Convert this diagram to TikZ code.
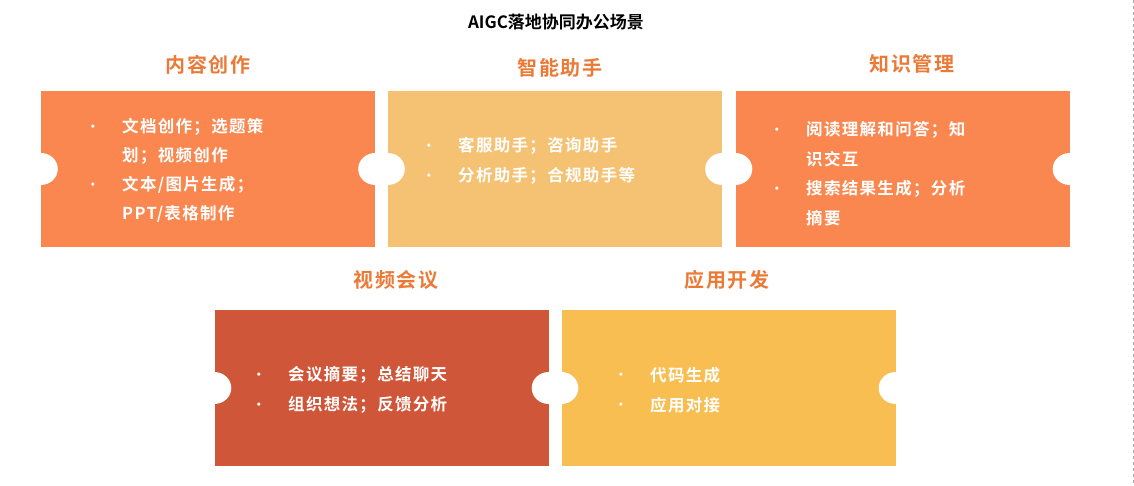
\documentclass[tikz,border=0pt]{standalone}
\usepackage{fontspec}
\newfontfamily\cjk{Noto Sans CJK SC}[LetterSpace=8]
\newfontfamily\cjkb{Noto Sans CJK SC Bold}[LetterSpace=8]
\newfontfamily\cjkt{Noto Sans CJK SC Bold}
\definecolor{o1}{HTML}{F9874F}
\definecolor{o2}{HTML}{F5C273}
\definecolor{o4}{HTML}{CF5639}
\definecolor{o5}{HTML}{F8BE52}
\definecolor{hd}{HTML}{EB7A37}
\begin{document}
\begin{tikzpicture}[x=1pt,y=-1pt,
  boxs/.style={draw=none,minimum width=334pt,minimum height=156pt,inner sep=0pt},
  hole/.style={fill=white,draw=none,ellipse,minimum width=33pt,minimum height=32pt},
  head/.style={text=hd,font=\cjkb\fontsize{20}{24}\selectfont},
  txt/.style={text=white,font=\cjkb\fontsize{16.5}{20}\selectfont,anchor=west,inner sep=0pt},
  bul/.style={text=white,font=\fontsize{12}{14}\selectfont,inner sep=0pt}]
\useasboundingbox (0,0) rectangle (1134,486);
\draw[gray!70,dashed,line width=0.8pt] (1133,0) -- (1133,486);
\node[font=\cjkt\fontsize{17}{20}\selectfont] (title) at (556,22) {AIGC落地协同办公场景};
\node[boxs,fill=o1] (b1) at (208,169) {};
\node[boxs,fill=o2] (b2) at (555,169) {};
\node[boxs,fill=o1] (b3) at (902.5,169) {};
\node[boxs,fill=o4] (b4) at (381.5,388) {};
\node[boxs,fill=o5] (b5) at (728.5,388) {};
\foreach \p in {b1.west,b1.east,b2.west,b2.east,b3.west,b3.east,b4.west,b4.east,b5.west,b5.east}
  \fill[white] (\p) ellipse [x radius=17pt,y radius=16pt];
\node[head] (h1) at (208,65) {内容创作};
\node[head] (h2) at (560,68) {智能助手};
\node[head] (h3) at (912,64) {知识管理};
\node[head] (h4) at (396,280) {视频会议};
\node[head] (h5) at (727,280) {应用开发};
% box1
\node[bul] (u11) at (93,127) {•};
\node[txt] (t11) at (122,127) {文档创作；选题策};
\node[txt] (t12) at (122,156) {划；视频创作};
\node[bul] (u12) at (93,185) {•};
\node[txt] (t13) at (122,185) {文本/图片生成；};
\node[txt] (t14) at (122,214) {PPT/表格制作};
% box2
\node[bul] (u21) at (429,146) {•};
\node[txt] (t21) at (458,146) {客服助手；咨询助手};
\node[bul] (u22) at (429,176) {•};
\node[txt] (t22) at (458,176) {分析助手；合规助手等};
% box3
\node[bul] (u31) at (777,130) {•};
\node[txt] (t31) at (806,130) {阅读理解和问答；知};
\node[txt] (t32) at (806,159) {识交互};
\node[bul] (u32) at (777,189) {•};
\node[txt] (t33) at (806,189) {搜索结果生成；分析};
\node[txt] (t34) at (806,218) {摘要};
% box4
\node[bul] (u41) at (259,375) {•};
\node[txt] (t41) at (288,375) {会议摘要；总结聊天};
\node[bul] (u42) at (259,405) {•};
\node[txt] (t42) at (288,405) {组织想法；反馈分析};
% box5
\node[bul] (u51) at (621,375) {•};
\node[txt] (t51) at (650,375) {代码生成};
\node[bul] (u52) at (621,405) {•};
\node[txt] (t52) at (650,405) {应用对接};
\end{tikzpicture}
\end{document}
